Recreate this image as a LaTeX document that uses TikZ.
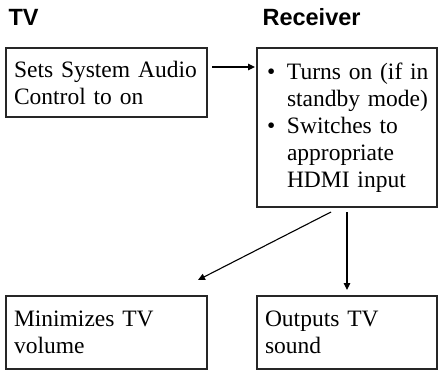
\documentclass[tikz,border=0pt]{standalone}
\usepackage{fontspec}
\setmainfont{Liberation Serif}
\newfontfamily\headfont{Liberation Sans}
\usetikzlibrary{arrows.meta}
\newcommand{\itembul}{\makebox[22pt][l]{\hspace{2pt}\textbullet}}
\newcommand{\itemgap}{\hspace*{22pt}}
\begin{document}
\begin{tikzpicture}[x=1pt, y=-1pt,
	>={Triangle[length=7pt, width=6.5pt]},
	every path/.style={line width=1.1pt},
	box/.style={draw=black!85, rectangle, anchor=north west, outer sep=0pt,
				inner xsep=8pt, inner ysep=0pt, align=left,
				font=\fontsize{23.5}{27}\selectfont},
	wide/.style={box, minimum width=201pt, text width=185pt},
	narrow/.style={box, minimum width=180pt, text width=164pt},
	head/.style={anchor=base west, inner sep=0pt,
				font=\headfont\bfseries\fontsize{23.5}{27}\selectfont}]
	\useasboundingbox (0,0) rectangle (438,370);
	\node[head] (tvhead) at (8,25) {TV};
	\node[head] (recvhead) at (262,25) {Receiver};
	\node[wide, minimum height=69pt] (sets) at (6,48)
		{Sets System Audio\\Control to on};
	\node[narrow, minimum height=159pt] (recv) at (257,48)
		{\itembul Turns on (if in\\\itemgap standby mode)\\
		 \itembul Switches to\\\itemgap appropriate\\\itemgap HDMI input};
	\node[wide, minimum height=73pt] (minim) at (6,296)
		{Minimizes TV\\volume};
	\node[narrow, minimum height=73pt] (outp) at (257,296)
		{Outputs TV\\sound};
	\draw[->] ([shift={(5,19)}]sets.north east) -- ([shift={(-2,19)}]recv.north west);
	\draw[->] ([shift={(74,5)}]recv.south west) -- ([shift={(192,-16)}]minim.north west);
	\draw[->] ([shift={(90,5)}]recv.south west) -- ([shift={(90,-6)}]outp.north west);
\end{tikzpicture}
\end{document}
